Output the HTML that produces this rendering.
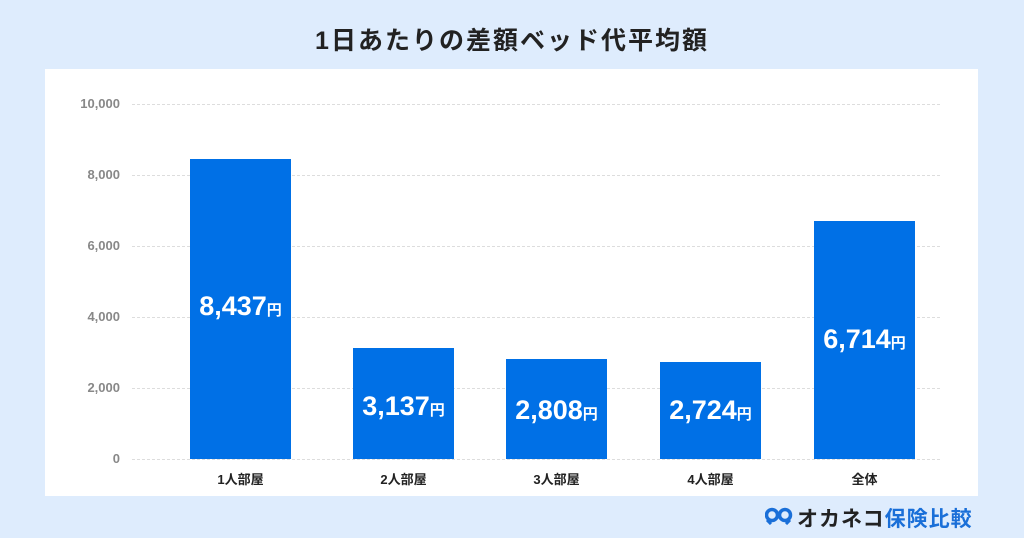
<!DOCTYPE html>
<html><head><meta charset="utf-8"><style>
body{margin:0;width:1024px;height:538px;background:#deecfd;font-family:"Liberation Sans","Noto Sans CJK JP",sans-serif;position:relative;overflow:hidden}
.t{position:absolute;left:0;width:1024px;top:21px;text-align:center;font-size:25px;font-weight:bold;color:#222;letter-spacing:2px}
.p{position:absolute;left:45px;top:69px;width:933px;height:427px;background:#fff}
.g{position:absolute;left:132px;width:808px;border-top:1px dashed #ddd}
.y{position:absolute;left:50px;width:70px;text-align:right;font-size:13px;font-weight:bold;color:#888}
.b{position:absolute;background:#0070e6;width:101px}
.v{position:absolute;color:#fff;font-weight:bold;font-size:27px;text-align:center;width:101px}
.v small{font-size:15px}
.x{position:absolute;top:469px;width:101px;text-align:center;font-size:13px;font-weight:bold;color:#222}
.l{position:absolute;top:503px;left:766px;font-size:21px;font-weight:bold;color:#222;letter-spacing:1px}
.l span{color:#1a6fd8}
</style></head><body>
<div class="t">1日あたりの差額ベッド代平均額</div>
<div class="p"></div>
<div class="g" style="top:104px"></div><div class="y" style="top:96px">10,000</div>
<div class="g" style="top:175px"></div><div class="y" style="top:167px">8,000</div>
<div class="g" style="top:246px"></div><div class="y" style="top:238px">6,000</div>
<div class="g" style="top:317px"></div><div class="y" style="top:309px">4,000</div>
<div class="g" style="top:388px"></div><div class="y" style="top:380px">2,000</div>
<div class="g" style="top:459px"></div><div class="y" style="top:451px">0</div>
<div class="b" style="left:190px;top:159px;height:300px"></div>
<div class="b" style="left:353px;top:348px;height:111px"></div>
<div class="b" style="left:506px;top:359px;height:100px"></div>
<div class="b" style="left:660px;top:362px;height:97px"></div>
<div class="b" style="left:814px;top:221px;height:238px"></div>
<div class="v" style="left:190px;top:291px">8,437<small>円</small></div>
<div class="v" style="left:353px;top:391px">3,137<small>円</small></div>
<div class="v" style="left:506px;top:395px">2,808<small>円</small></div>
<div class="v" style="left:660px;top:395px">2,724<small>円</small></div>
<div class="v" style="left:814px;top:324px">6,714<small>円</small></div>
<div class="x" style="left:190px">1人部屋</div>
<div class="x" style="left:353px">2人部屋</div>
<div class="x" style="left:506px">3人部屋</div>
<div class="x" style="left:660px">4人部屋</div>
<div class="x" style="left:814px">全体</div>
<svg style="position:absolute;left:765px;top:507px" width="28" height="18"><circle cx="7" cy="8" r="5.5" fill="none" stroke="#1a6fd8" stroke-width="3.5"/><circle cx="20" cy="8" r="5.5" fill="none" stroke="#1a6fd8" stroke-width="3.5"/><path d="M2 13 L6 17 M25 13 L21 17" stroke="#1a6fd8" stroke-width="3"/></svg>
<div class="l" style="left:797px">オカネコ<span>保険比較</span></div>
</body></html>
